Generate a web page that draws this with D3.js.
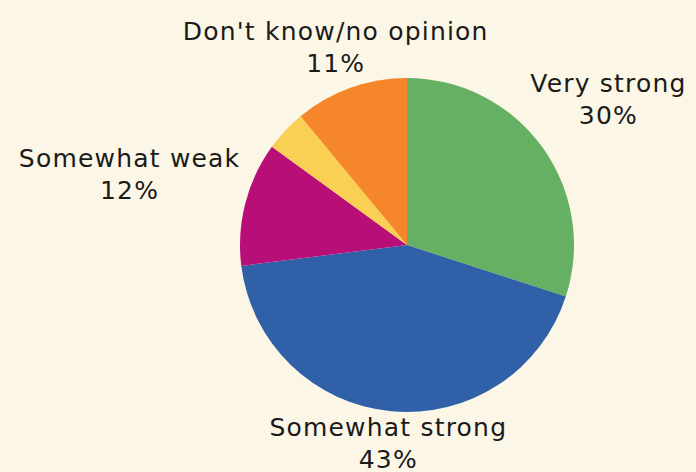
<!DOCTYPE html>
<html>
<head>
<meta charset="utf-8">
<script src="https://cdn.jsdelivr.net/npm/d3@7"></script>
<style>
  html, body { margin: 0; padding: 0; background: #fcf6e6; }
  svg { display: block; }
</style>
</head>
<body>
<svg id="chart" width="696" height="472"></svg>
<script>
const categories = ["Very strong", "Somewhat strong", "Somewhat weak", "Not very strong", "Don't know/no opinion"];
const values = [30, 43, 12, 4, 11];
const showLabel = [true, true, true, false, true];
const colors = ["#66b064", "#3060a8", "#b80e77", "#f9d054", "#f5862a"];

const width = 696, height = 472;
const cx = 407, cy = 245, radius = 167, pad = 6;
const fontSize = 25, lineH = 32, capH = fontSize * 0.72, letterSp = 1.2;

const svg = d3.select("#chart");
svg.append("rect").attr("width", width).attr("height", height).attr("fill", "#fcf6e6");

const g = svg.append("g").attr("transform", `translate(${cx},${cy})`);
const data = categories.map((c, i) => ({ name: c, value: values[i], color: colors[i], show: showLabel[i] }));
const pie = d3.pie().value(d => d.value).sort(null);
const arc = d3.arc().innerRadius(0).outerRadius(radius);
const arcs = pie(data);

g.selectAll("path.slice").data(arcs).join("path")
  .attr("class", "slice")
  .attr("d", arc)
  .attr("fill", d => d.data.color);

const hh = (lineH + capH) / 2;
const labels = g.selectAll("g.label").data(arcs.filter(a => a.data.show)).join("g").attr("class", "label");
labels.each(function(d) {
  const sel = d3.select(this);
  const t = sel.append("text")
    .attr("text-anchor", "middle")
    .attr("font-family", "'DejaVu Sans', sans-serif")
    .attr("font-size", fontSize)
    .attr("letter-spacing", letterSp)
    .attr("fill", "#1a1a1a");
  t.append("tspan").attr("x", 0).attr("y", -hh + capH).text(d.data.name);
  t.append("tspan").attr("x", 0).attr("y", -hh + capH + lineH).text(Math.round(d.data.value / d3.sum(values) * 100) + "%");
  const bb = t.node().getBBox();
  const hw = bb.width / 2;
  const a = (d.startAngle + d.endAngle) / 2;
  const ux = Math.sin(a), uy = -Math.cos(a);
  const target = radius + pad;
  const distAt = dd => {
    const x = Math.abs(dd * ux) - hw, y = Math.abs(dd * uy) - hh;
    return Math.hypot(Math.max(0, x), Math.max(0, y));
  };
  let lo = 0, hi = 1000;
  for (let k = 0; k < 60; k++) {
    const mid = (lo + hi) / 2;
    if (distAt(mid) < target) lo = mid; else hi = mid;
  }
  sel.attr("transform", `translate(${hi * ux},${hi * uy})`);
});
</script>
</body>
</html>
